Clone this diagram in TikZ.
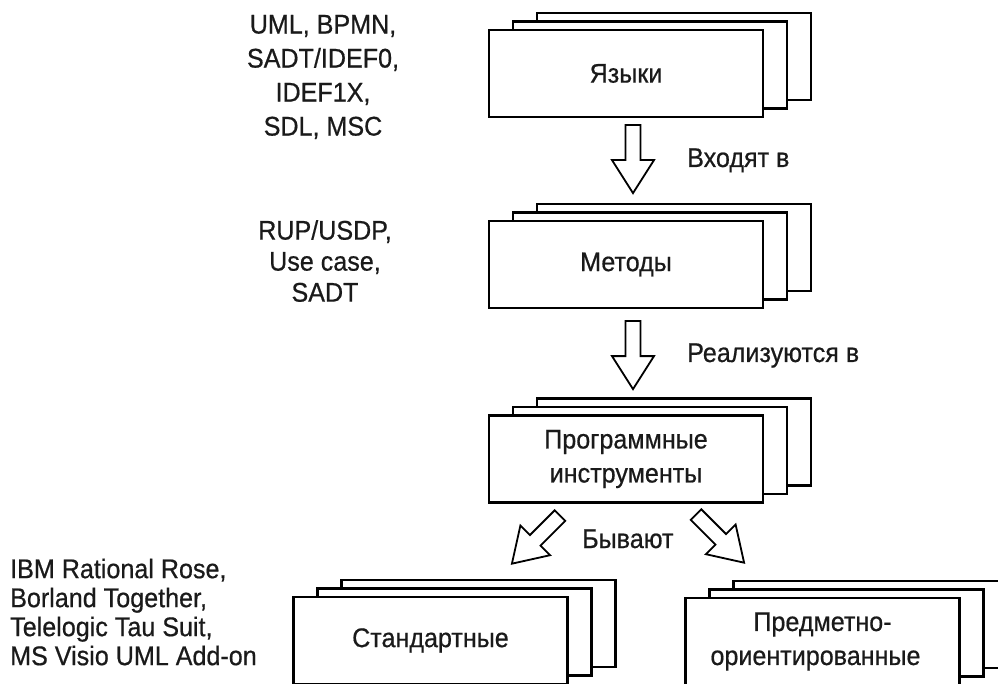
\documentclass[tikz,border=0pt]{standalone}
\usepackage{fontspec}
\setmainfont[FakeStretch=0.93,FakeBold=0.6]{Liberation Sans}
\usetikzlibrary{shadows,calc}
\definecolor{ink}{HTML}{1A1A1A}
\begin{document}
\begin{tikzpicture}[x=1pt,y=-1pt,
  txt/.style={font=\fontsize{27}{34}\selectfont, text=ink, inner sep=0pt},
  stackbox/.style={draw=black, fill=white, line width=2.2pt,
    minimum width=274pt, minimum height=87pt, inner sep=0pt, align=center,
    font=\fontsize{27}{34}\selectfont, text=ink,
    copy shadow={shadow xshift=48pt, shadow yshift=17pt, fill=white, draw=black, line width=2.2pt},
    copy shadow={shadow xshift=24pt, shadow yshift=8.5pt, fill=white, draw=black, line width=2.2pt}},
  blockarrow/.pic={
    \draw[line width=1.8pt, fill=white, line join=miter]
      (0,-7.5) -- (35,-7.5) -- (35,-21) -- (68,0) -- (35,21) -- (35,7.5) -- (0,7.5) -- cycle;}
]
\clip (0,0) rectangle (998,684);

% stacked boxes
\node[stackbox] (lang)  at (626,73.5)   {Языки};
\node[stackbox] (meth)  at (626,264.5)  {Методы};
\node[stackbox] (tools) at (626,459)    {Программные\\инструменты};
\node[stackbox] (std)   at (430.5,640.5){Стандартные};
\node[stackbox] (dom)   at (822.5,641.5){Предметно-\\ориентированные\hspace*{14pt}};

% hollow block arrows between the boxes
\pic[rotate=-90] at ($(lang.south)+(7,7)$) {blockarrow};
\pic[rotate=-90] at ($(meth.south)+(7,12)$) {blockarrow};
\pic[rotate=-135] at ($(tools.south)+(-66,12)$) {blockarrow};
\pic[rotate=-45] at ($(tools.south)+(70,11)$) {blockarrow};

% arrow captions
\node[txt, anchor=base west] (c1) at (687,167) {Входят в};
\node[txt, anchor=base west] (c2) at (687,362) {Реализуются в};
\node[txt, anchor=base west] (c3) at (582,548) {Бывают};

% examples beside the boxes
\node[txt, align=center, font=\fontsize{27}{34}\selectfont] (ex1) at (323,77)
  {UML, BPMN,\\SADT/IDEF0,\\IDEF1X,\\SDL, MSC};
\node[txt, align=center, font=\fontsize{27}{31}\selectfont] (ex2) at (325,261)
  {RUP/USDP,\\Use case,\\SADT};
\node[txt, align=left, anchor=west, font=\fontsize{27}{29}\selectfont] (ex3) at (10,612)
  {IBM Rational Rose,\\Borland Together,\\Telelogic Tau Suit,\\MS Visio UML Add-on};
\end{tikzpicture}
\end{document}
